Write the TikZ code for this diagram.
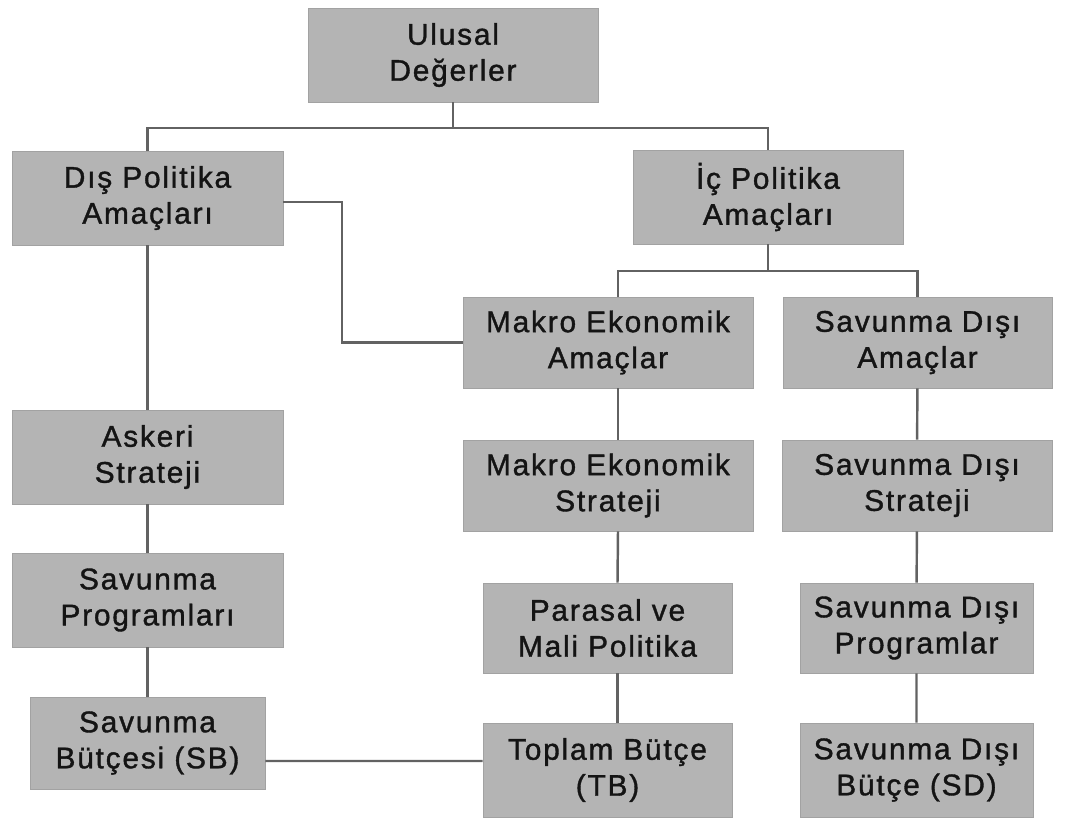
\documentclass[tikz,border=0pt]{standalone}
\usepackage{fontspec}
\setsansfont{Liberation Sans}[LetterSpace=6, FakeBold=1.2]
\usepackage{xcolor}
\definecolor{boxfill}{HTML}{B4B4B4}
\definecolor{linegray}{HTML}{626262}
\definecolor{txt}{HTML}{141414}
\usetikzlibrary{positioning, calc}

\begin{document}
\begin{tikzpicture}[
        x=0.02cm, y=-0.02cm,
        font=\sffamily,
        org_box/.style={
            rectangle,
            fill=boxfill,
            draw=boxfill!90!black,
            line width=0.4pt,
            text=txt,
            align=center,
            inner sep=0pt,
            font=\sffamily\fontsize{17}{20.5}\selectfont
        },
        link/.style={
            draw=linegray,
            line width=1.4pt
        }
    ]
    \useasboundingbox (0,0) rectangle (1072,820);

    % Level 0: values
    \node[org_box, minimum width=5.8cm, minimum height=1.88cm] (b_ulusal) at (453,55) {Ulusal\\Değerler};

    % Level 1: policy goals
    \node[org_box, minimum width=5.42cm, minimum height=1.88cm] (b_dis) at (147.5,198) {Dış Politika\\Amaçları};
    \node[org_box, minimum width=5.4cm, minimum height=1.88cm] (b_ic) at (768,197) {İç Politika\\Amaçları};

    % Level 2: goals
    \node[org_box, minimum width=5.8cm, minimum height=1.82cm] (b_makro_am) at (608,342.5) {Makro Ekonomik\\Amaçlar};
    \node[org_box, minimum width=5.38cm, minimum height=1.82cm] (b_sd_am) at (917.5,342.5) {Savunma Dışı\\Amaçlar};

    % Level 3: strategy
    \node[org_box, minimum width=5.42cm, minimum height=1.88cm] (b_askeri) at (147.5,457) {Askeri\\Strateji};
    \node[org_box, minimum width=5.8cm, minimum height=1.82cm] (b_makro_st) at (608,485.5) {Makro Ekonomik\\Strateji};
    \node[org_box, minimum width=5.4cm, minimum height=1.82cm] (b_sd_st) at (917,485.5) {Savunma Dışı\\Strateji};

    % Level 4: programmes
    \node[org_box, minimum width=5.42cm, minimum height=1.88cm] (b_sav_pr) at (147.5,600) {Savunma\\Programları};
    \node[org_box, minimum width=4.98cm, minimum height=1.8cm] (b_parasal) at (607.5,628) {Parasal ve\\Mali Politika};
    \node[org_box, minimum width=4.66cm, minimum height=1.8cm] (b_sd_pr) at (916.5,628) {Savunma Dışı\\Programlar};

    % Level 5: budgets
    \node[org_box, minimum width=4.7cm, minimum height=1.84cm] (b_sb) at (147.5,743) {Savunma\\Bütçesi (SB)};
    \node[org_box, minimum width=4.98cm, minimum height=1.88cm] (b_tb) at (607.5,770) {Toplam Bütçe\\(TB)};
    \node[org_box, minimum width=4.66cm, minimum height=1.88cm] (b_sdb) at (916.5,770) {Savunma Dışı\\Bütçe (SD)};

    % junctions
    \coordinate (j_top) at (453,128);
    \coordinate (j_ic) at (768,271);
    \coordinate (j_dis) at (342,202);

    % connectors
    \draw[link] (b_ulusal.south) -- (j_top);
    \draw[link] (b_dis.north) |- (j_top) -| (b_ic.north);
    \draw[link] (b_ic.south) -- (j_ic);
    \draw[link] ([xshift=0.2cm]b_makro_am.north) |- (j_ic) -| (b_sd_am.north);
    \draw[link] (b_dis.east |- j_dis) -- (j_dis) |- (b_makro_am.west);
    \draw[link] (b_dis) -- (b_askeri) -- (b_sav_pr) -- (b_sb);
    \draw[link] ([xshift=0.2cm]b_makro_am.south) -- ([xshift=0.2cm]b_makro_st.north);
    \draw[link] ([xshift=0.2cm]b_makro_st.south) -- ([xshift=0.2cm]b_parasal.north);
    \draw[link] ([xshift=0.2cm]b_parasal.south) -- ([xshift=0.2cm]b_tb.north);
    \draw[link] (b_sd_am) -- (b_sd_st) -- (b_sd_pr) -- (b_sdb);
    \draw[link] ([yshift=-0.36cm]b_sb.east) -- ([yshift=0.18cm]b_tb.west);

\end{tikzpicture}
\end{document}
